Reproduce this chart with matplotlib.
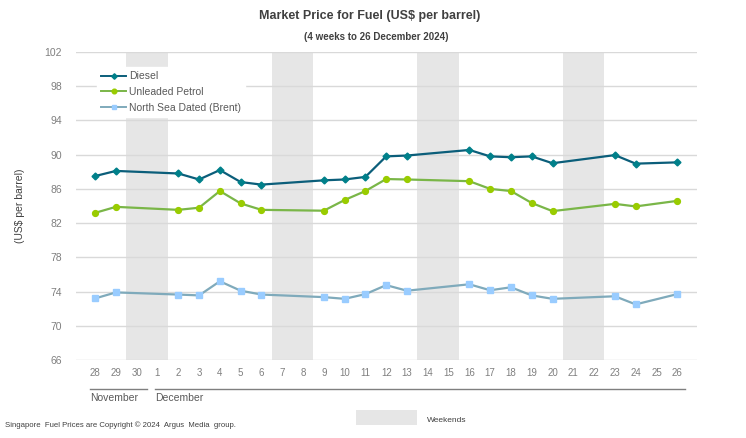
import numpy as np
import matplotlib.pyplot as plt
from matplotlib.patches import Rectangle

plt.rcParams['font.family'] = ['Liberation Sans', 'DejaVu Sans']

# días del periodo (28 Nov - 26 Dic 2024)
dias = ['28', '29', '30'] + [str(d) for d in range(1, 27)]
# None = sin cotización (fin de semana / festivo)
diesel = [87.5, 88.1, None, None, 87.8, 87.1, 88.2, 86.8, 86.5, None, None,
          87.0, 87.1, 87.4, 89.8, 89.9, None, None, 90.55, 89.8, 89.7, 89.8,
          89.0, None, None, 89.95, 88.95, None, 89.1]
petrol = [83.2, 83.9, None, None, 83.55, 83.8, 85.75, 84.3, 83.55, None, None,
          83.45, 84.7, 85.75, 87.15, 87.1, None, None, 86.9, 86.0, 85.75, 84.35,
          83.4, None, None, 84.25, 83.95, None, 84.6]
brent = [73.2, 73.9, None, None, 73.65, 73.55, 75.2, 74.1, 73.65, None, None,
         73.35, 73.15, 73.7, 74.75, 74.1, None, None, 74.85, 74.15, 74.5, 73.55,
         73.15, None, None, 73.45, 72.5, None, 73.7]
fines_semana = [(2, 3), (9, 10), (16, 17), (23, 24)]

W, H = 746, 438
fig = plt.figure(figsize=(W / 100, H / 100), dpi=100)
ax = fig.add_axes([76 / W, 1 - 360 / H, (697 - 76) / W, (360 - 52) / H])

gris = '#595959'
gris_claro = '#7f7f7f'
for a, b in fines_semana:
    ax.axvspan(a - 0.5, b + 0.5, color='#e6e6e6', lw=0, zorder=0)

ax.set_yticks(np.arange(66, 103, 4))
ax.set_ylim(66, 102)
ax.set_xlim(-0.92, 28.95)
ax.grid(axis='y', color='#d9d9d9', lw=1)
ax.set_axisbelow(True)
for s in ax.spines.values():
    s.set_visible(False)
ax.tick_params(axis='y', length=0, labelsize=7.5, labelcolor=gris_claro, pad=10)
ax.set_xticks(range(len(dias)))
ax.set_xticklabels(dias)
ax.tick_params(axis='x', length=0, labelsize=7, labelcolor=gris_claro, pad=6)


def serie(vals, **kw):
    x = [i for i, v in enumerate(vals) if v is not None]
    y = [v for v in vals if v is not None]
    return ax.plot(x, y, lw=1.6, zorder=3, **kw)[0]


l1 = serie(diesel, color='#0b5e7a', marker='D', ms=3.5, mfc='#00808a',
           mec='#00808a', label='Diesel')
l2 = serie(petrol, color='#7ab648', marker='o', ms=4.2, mfc='#99cc00',
           mec='#99cc00', label='Unleaded Petrol')
l3 = serie(brent, color='#7faabb', marker='s', ms=3.8, mfc='#99ccff',
           mec='#99ccff', label='North Sea Dated (Brent)')

leg = ax.legend(handles=[l1, l2, l3], loc='upper left',
                bbox_to_anchor=((97 - 76) / 621, 1 - 15 / 308),
                frameon=True, fancybox=False, framealpha=1, edgecolor='white',
                fontsize=7.5, handlelength=2.4, handletextpad=0.3,
                labelspacing=0.55, borderpad=0.4, borderaxespad=0,
                markerscale=0.8)
for t in leg.get_texts():
    t.set_color(gris)
for h in leg.get_lines():
    h.set_linewidth(1.4)
leg.set_zorder(5)

ax.set_ylabel('(US$ per barrel)', fontsize=7.5, color='#404040', labelpad=14)

# títulos
fig.text(370 / W, 1 - 16 / H, 'Market Price for Fuel (US$ per barrel)',
         ha='center', va='center', fontsize=9, fontweight='bold', color='#404040')
fig.text(376 / W, 1 - 37 / H, '(4 weeks to 26 December 2024)',
         ha='center', va='center', fontsize=7, fontweight='bold', color='#404040')

# meses debajo del eje
lin = dict(color='#7f7f7f', lw=1)
fig.add_artist(plt.Line2D([90 / W, 147 / W], [1 - 389 / H] * 2, **lin))
fig.add_artist(plt.Line2D([155 / W, 685 / W], [1 - 389 / H] * 2, **lin))
fig.text(90 / W, 1 - 398 / H, 'November', fontsize=7.5, color=gris, va='center')
fig.text(155 / W, 1 - 398 / H, 'December', fontsize=7.5, color=gris, va='center')

# pie
fig.text(5 / W, 1 - 425 / H,
         'Singapore  Fuel Prices are Copyright \u00a9 2024  Argus  Media  group.',
         fontsize=5.6, color='#404040', va='center')
fig.add_artist(Rectangle((356 / W, 1 - 425 / H), 61 / W, 15 / H,
                         transform=fig.transFigure, color='#e6e6e6', lw=0))
fig.text(427 / W, 1 - 421 / H, 'Weekends', fontsize=6, color='#404040', va='center')

fig.savefig('out.png', dpi=100, facecolor='white')
